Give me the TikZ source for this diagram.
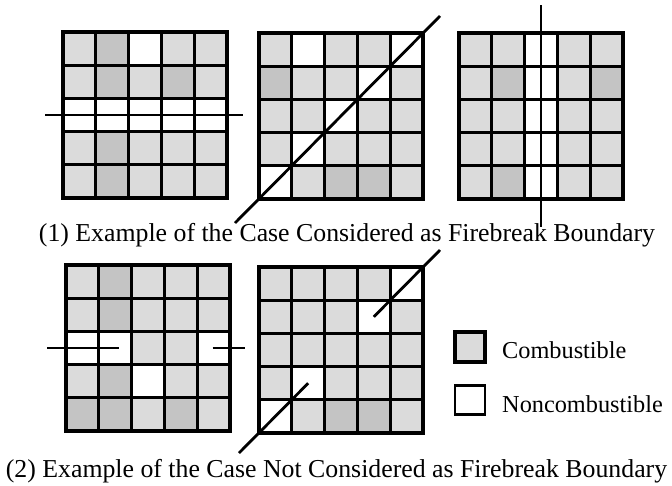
\documentclass[tikz,border=0pt]{standalone}
\usepackage{fontspec}
\setmainfont{Liberation Serif}
\usetikzlibrary{calc}
\colorlet{c0}{white}
\colorlet{c1}{gray!28}
\colorlet{c2}{gray!46}
\tikzset{
  cell/.style={draw=black, line width=3.2pt, minimum width=32.8pt, minimum height=33.2pt, inner sep=0pt, outer sep=0pt},
  fb/.style={draw=black, line width=2.8pt},
  captxt/.style={font=\fontsize{25.8}{30}\selectfont, inner sep=0pt},
  legtxt/.style={font=\fontsize{24.3}{28}\selectfont, inner sep=0pt, anchor=base west}
}
\newcommand\firegrid[4]{%
  \foreach \v [count=\i from 0] in {#4} {
    \pgfmathtruncatemacro\rr{div(\i,5)+1}
    \pgfmathtruncatemacro\cc{mod(\i,5)+1}
    \node[cell, fill=c\v] (#1-\rr-\cc) at ({#2+(\cc-0.5)*32.8},{#3+(\rr-0.5)*33.2}) {};
  }%
}
\begin{document}
\begin{tikzpicture}[x=1pt, y=-1pt]
\useasboundingbox (0,0) rectangle (672,485);
% (1) considered
\firegrid{g1}{63}{32}{1,2,0,1,1, 1,2,1,2,1, 0,0,0,0,0, 1,2,1,1,1, 1,2,1,1,1}
\firegrid{g2}{259}{33}{1,0,1,1,0, 2,1,1,0,1, 1,1,0,1,1, 1,0,1,1,1, 0,1,2,2,1}
\firegrid{g3}{459}{33}{1,1,0,1,1, 1,2,0,1,2, 1,1,0,1,1, 1,1,0,1,1, 1,2,0,1,1}
\coordinate (g1l) at ($(g1-3-1.west)+(-18,0)$);
\coordinate (g1r) at ($(g1-3-5.east)+(16,0)$);
\draw[fb] (g1l) -- (g1r);
\coordinate (g2a) at ($(g2-5-1.south west)+(-24,24)$);
\coordinate (g2b) at ($(g2-1-5.north east)+(17,-17)$);
\draw[fb] (g2a) -- (g2b);
\coordinate (g3a) at ($(g3-1-3.north)+(0,-28)$);
\coordinate (g3b) at ($(g3-5-3.south)+(0,28)$);
\draw[fb] (g3a) -- (g3b);
\node[captxt, anchor=base] (cap1) at (347,241) {(1) Example of the Case Considered as Firebreak Boundary};
% (2) not considered
\firegrid{g4}{66}{265}{1,2,1,1,1, 1,2,1,1,1, 0,0,1,1,0, 1,2,0,1,1, 2,2,1,2,1}
\firegrid{g5}{259}{267}{1,1,1,1,0, 1,1,1,0,1, 1,1,1,1,1, 1,0,1,1,1, 0,1,2,2,1}
\coordinate (g4a) at ($(g4-3-1.west)+(-19,0)$);
\coordinate (g4b) at ($(g4-3-2.center)+(4,0)$);
\draw[fb] (g4a) -- (g4b);
\coordinate (g4c) at ($(g4-3-5.center)+(-1,0)$);
\coordinate (g4d) at ($(g4-3-5.east)+(15,0)$);
\draw[fb] (g4c) -- (g4d);
\coordinate (g5a) at ($(g5-1-5.north east)+(17,-17)$);
\draw[fb] (g5a) -- (g5-2-4.center);
\coordinate (g5b) at ($(g5-5-1.south west)+(-20,20)$);
\draw[fb] (g5-4-2.center) -- (g5b);
\node[captxt, anchor=base] (cap2) at (336.5,477) {(2) Example of the Case Not Considered as Firebreak Boundary};
% legend
\node[cell, fill=c1, minimum width=30pt, minimum height=30pt] (legC) at (470,347) {};
\node[cell, fill=white, line width=2.2pt, minimum width=30pt, minimum height=29pt] (legN) at (470,400) {};
\node[legtxt] (legCt) at (502,358) {Combustible};
\node[legtxt] (legNt) at (502,412) {Noncombustible};
\end{tikzpicture}
\end{document}
